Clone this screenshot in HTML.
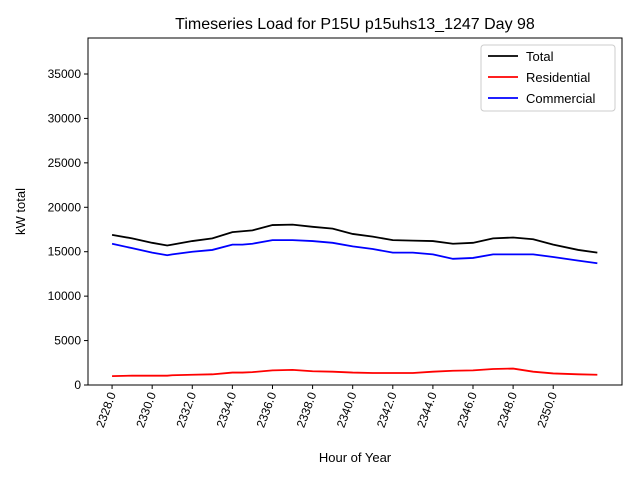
<!DOCTYPE html>
<html><head><meta charset="utf-8"><style>
body{margin:0;background:#fff;font-family:"Liberation Sans","DejaVu Sans",sans-serif}
</style></head><body>
<svg id="chart" width="640" height="480" xmlns="http://www.w3.org/2000/svg">
<rect width="640" height="480" fill="#fff"/>
<text x="355" y="29" font-size="16" text-anchor="middle">Timeseries Load for P15U p15uhs13_1247  Day 98</text>
<g id="plot"></g>
</svg>
<script>
const hours=[2328,2329,2330,2330.75,2331,2332,2333,2334,2334.5,2335,2336,2337,2338,2339,2340,2341,2342,2343,2344,2345,2346,2347,2348,2349,2350,2351.25,2352.2];
const totalVals=[16900,16500,16000,15700,15800,16200,16500,17200,17300,17400,18000,18050,17800,17600,17000,16700,16300,16250,16200,15900,16000,16500,16600,16400,15800,15200,14900];
const resVals=[1000,1050,1050,1050,1100,1150,1200,1400,1400,1450,1650,1700,1550,1500,1400,1350,1350,1350,1500,1600,1650,1800,1850,1500,1300,1200,1150];
const comVals=[15900,15400,14900,14600,14700,15000,15200,15800,15800,15900,16300,16300,16200,16000,15600,15300,14900,14900,14700,14200,14300,14700,14700,14700,14400,14000,13700];
const xTicks=[2328,2330,2332,2334,2336,2338,2340,2342,2344,2346,2348,2350];
const yTicks=[0,5000,10000,15000,20000,25000,30000,35000];
const seriesNames=["Total","Residential","Commercial"];
const seriesColors=["#000","#f00","#00f"];

const L=88,R=622,T=38,B=385,xMin=2326.8,xMax=2353.43,yMax=39050;
const X=v=>L+(v-xMin)/(xMax-xMin)*(R-L);
const Y=v=>B-v/yMax*(B-T);
const NS="http://www.w3.org/2000/svg";
const g=document.getElementById('plot');
function mk(t,a){const e=document.createElementNS(NS,t);for(const k in a)e.setAttribute(k,a[k]);g.appendChild(e);return e;}

const frame=mk('rect',{x:L,y:T,width:R-L,height:B-T,fill:'none',stroke:'#000','stroke-width':1});



yTicks.forEach(v=>{
  const t=mk('line',{x1:L-4,x2:L,y1:Y(v),y2:Y(v),stroke:'#000'});
  
  
  const l=mk('text',{x:L-7,y:Y(v)+4,'font-size':12,'text-anchor':'end'});
  l.textContent=v;
  
  
});
xTicks.forEach(v=>{
  const x=X(v);
  const t=mk('line',{x1:x,x2:x,y1:B,y2:B+4,stroke:'#000'});
  
  
  const l=mk('text',{x:x+4,y:B+9,'font-size':12,'text-anchor':'end',transform:`rotate(-70 ${x+4} ${B+9})`});
  l.textContent=v.toFixed(1);
  
  
});
const yt=mk('text',{x:25,y:(T+B)/2,'font-size':13,'text-anchor':'middle',transform:`rotate(-90 25 ${(T+B)/2})`});
yt.textContent='kW total';


const xt=mk('text',{x:355,y:462,'font-size':13,'text-anchor':'middle'});
xt.textContent='Hour of Year';



[totalVals,resVals,comVals].forEach((vals,i)=>{
  const p=mk('polyline',{points:hours.map((h,j)=>X(h)+','+Y(vals[j])).join(' '),fill:'none',stroke:seriesColors[i],'stroke-width':1.8});
  
  
});

const lg=mk('rect',{x:481,y:45,width:134,height:66,fill:'#fff',stroke:'#ccc',rx:3});


seriesNames.forEach((n,i)=>{
  const y=56+i*21;
  const ln=mk('line',{x1:488,x2:518,y1:y,y2:y,stroke:seriesColors[i],'stroke-width':1.8});
  
  
  const tx=mk('text',{x:526,y:y+5,'font-size':13});
  tx.textContent=n;
  
  
});
</script>
</body></html>
